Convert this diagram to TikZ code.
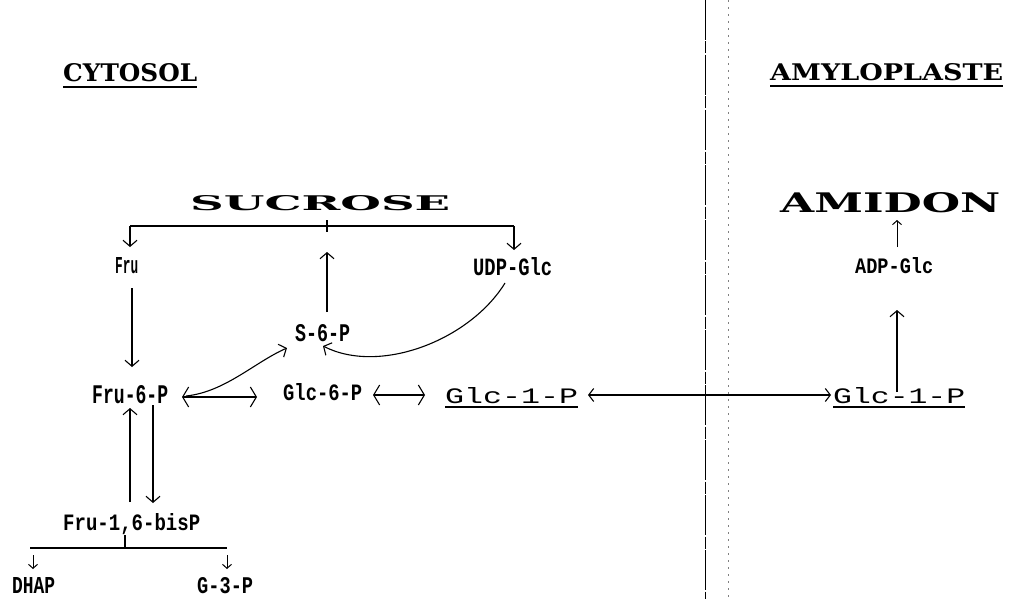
\documentclass[tikz,border=0pt]{standalone}
\usepackage{fontspec}
\usepackage{graphicx}
\usetikzlibrary{arrows.meta}
\newfontfamily\labfont{Liberation Mono}
\newfontfamily\titlefont{DejaVu Serif}
\newcommand{\fitbox}[3]{\resizebox{#1pt}{#2pt}{#3}}
\begin{document}
\begin{tikzpicture}[x=1pt,y=-1pt,
  lab/.style={inner sep=0pt, anchor=base west, font=\labfont\bfseries},
  big/.style={inner sep=0pt, anchor=base west, font=\labfont},
  ttl/.style={inner sep=0pt, anchor=base west, font=\titlefont\bfseries},
  ln/.style={line width=1.1pt},
  conn/.style={line width=1.1pt, -{Straight Barb[length=6pt,width=14pt]}},
  dconn/.style={line width=1.1pt, {Straight Barb[length=6pt,width=20pt]}-{Straight Barb[length=6pt,width=20pt]}},
  lconn/.style={line width=1.1pt, {Straight Barb[length=5pt,width=13pt]}-{Straight Barb[length=5pt,width=13pt]}},
  sconn/.style={line width=1pt, -{Straight Barb[length=4pt,width=9pt]}},
  uline/.style={line width=1.2pt},
  tline/.style={line width=2pt}]
\useasboundingbox (0,0) rectangle (1011,599);

% dividers
\draw[line width=0.9pt, dash pattern=on 40pt off 1.5pt on 12pt off 1.5pt] (705,0) -- (705,599);
\draw[line width=0.5pt, black!50, dash pattern=on 2pt off 5pt] (728,0) -- (728,599);

% titles
\node[ttl] (cyto) at (63,82) {\fitbox{134}{18}{CYTOSOL}};
\draw[tline] ([yshift=-5pt]cyto.base west) -- ([yshift=-5pt]cyto.base east);
\node[ttl] (amylo) at (770,81) {\fitbox{233}{17}{AMYLOPLASTE}};
\draw[tline] ([yshift=-5pt]amylo.base west) -- ([yshift=-5pt]amylo.base east);

\node[ttl] (suc) at (190,210) {\fitbox{260}{15}{SUCROSE}};
\node[ttl] (ami) at (780,212) {\fitbox{220}{20}{AMIDON}};

% labels
\node[lab] (fru) at (115,273) {\fitbox{23}{16}{Fru}};
\node[lab] (udp) at (473,275) {\fitbox{79}{18}{UDP-Glc}};
\node[lab] (adp) at (855,273) {\fitbox{78}{16}{ADP-Glc}};
\node[lab] (s6p) at (295,341) {\fitbox{55}{17}{S-6-P}};
\node[lab] (f6p) at (92,403) {\fitbox{76}{18}{Fru-6-P}};
\node[lab] (g6p) at (283,400) {\fitbox{79}{17}{Glc-6-P}};
\node[big] (g1pl) at (445,403) {\fitbox{133}{16}{Glc-1-P}};
\draw[uline] ([yshift=-4pt]g1pl.base west) -- ([yshift=-4pt]g1pl.base east);
\node[big] (g1pr) at (833,403) {\fitbox{132}{16}{Glc-1-P}};
\draw[uline] ([yshift=-4pt]g1pr.base west) -- ([yshift=-4pt]g1pr.base east);
\node[lab] (fbp) at (63,530) {\fitbox{137}{17}{Fru-1,6-bisP}};
\node[lab] (dhap) at (12,593) {\fitbox{43}{16}{DHAP}};
\node[lab] (g3p) at (197,593) {\fitbox{56}{16}{G-3-P}};

% connector points
\coordinate (bl) at (130,226);
\coordinate (br) at (514,226);
\coordinate (bm) at (327,226);
\coordinate (fruIn) at (130,247);
\coordinate (udpIn) at (514,250);
\coordinate (s6pTop) at (327,312);
\coordinate (sucIn) at (327,252);
\coordinate (fruOut) at (132,288);
\coordinate (f6pIn) at (132,367);
\coordinate (f6pE) at (182,397);
\coordinate (g6pW) at (257,397);
\coordinate (f6pC) at (186,396);
\coordinate (s6pInL) at (287,348);
\coordinate (udpOut) at (505,283);
\coordinate (s6pInR) at (323,346);
\coordinate (g6pE) at (373,395);
\coordinate (g1plW) at (425,395);
\coordinate (g1plE) at (588,395);
\coordinate (g1prW) at (831,395);
\coordinate (g1prTop) at (897,392);
\coordinate (adpIn) at (897,310);
\coordinate (adpTop) at (897,247);
\coordinate (amiIn) at (897,220);
\coordinate (f6pDown) at (153,405);
\coordinate (fbpIn) at (153,503);
\coordinate (fbpUp) at (130,502);
\coordinate (f6pUp) at (130,408);
\coordinate (dl) at (30,548);
\coordinate (dr) at (227,548);
\coordinate (dm) at (125,548);

% sucrose bracket
\draw[ln] (bl) -- (br);
\draw[ln] (327,220) -- (327,232);
\draw[conn] (bl) -- (fruIn);
\draw[conn] (br) -- (udpIn);
\draw[conn] (s6pTop) -- (sucIn);

% cytosol reactions
\draw[conn] (fruOut) -- (f6pIn);
\draw[dconn] (f6pE) -- (g6pW);
\draw[conn] (f6pC) .. controls (225,392) and (255,362) .. (s6pInL);
\draw[conn] (udpOut) .. controls (470,340) and (380,375) .. (s6pInR);
\draw[dconn] (g6pE) -- (g1plW);
\draw[lconn] (g1plE) -- (g1prW);
\draw[conn] (f6pDown) -- (fbpIn);
\draw[conn] (fbpUp) -- (f6pUp);

% amyloplast
\draw[conn] (g1prTop) -- (adpIn);
\draw[sconn] (adpTop) -- (amiIn);

% bisP bracket
\draw[ln] (dl) -- (dr);
\draw[ln] (125,535) -- (dm);
\draw[sconn] (33,555) -- (33,569);
\draw[sconn] (227,555) -- (227,569);
\end{tikzpicture}
\end{document}
